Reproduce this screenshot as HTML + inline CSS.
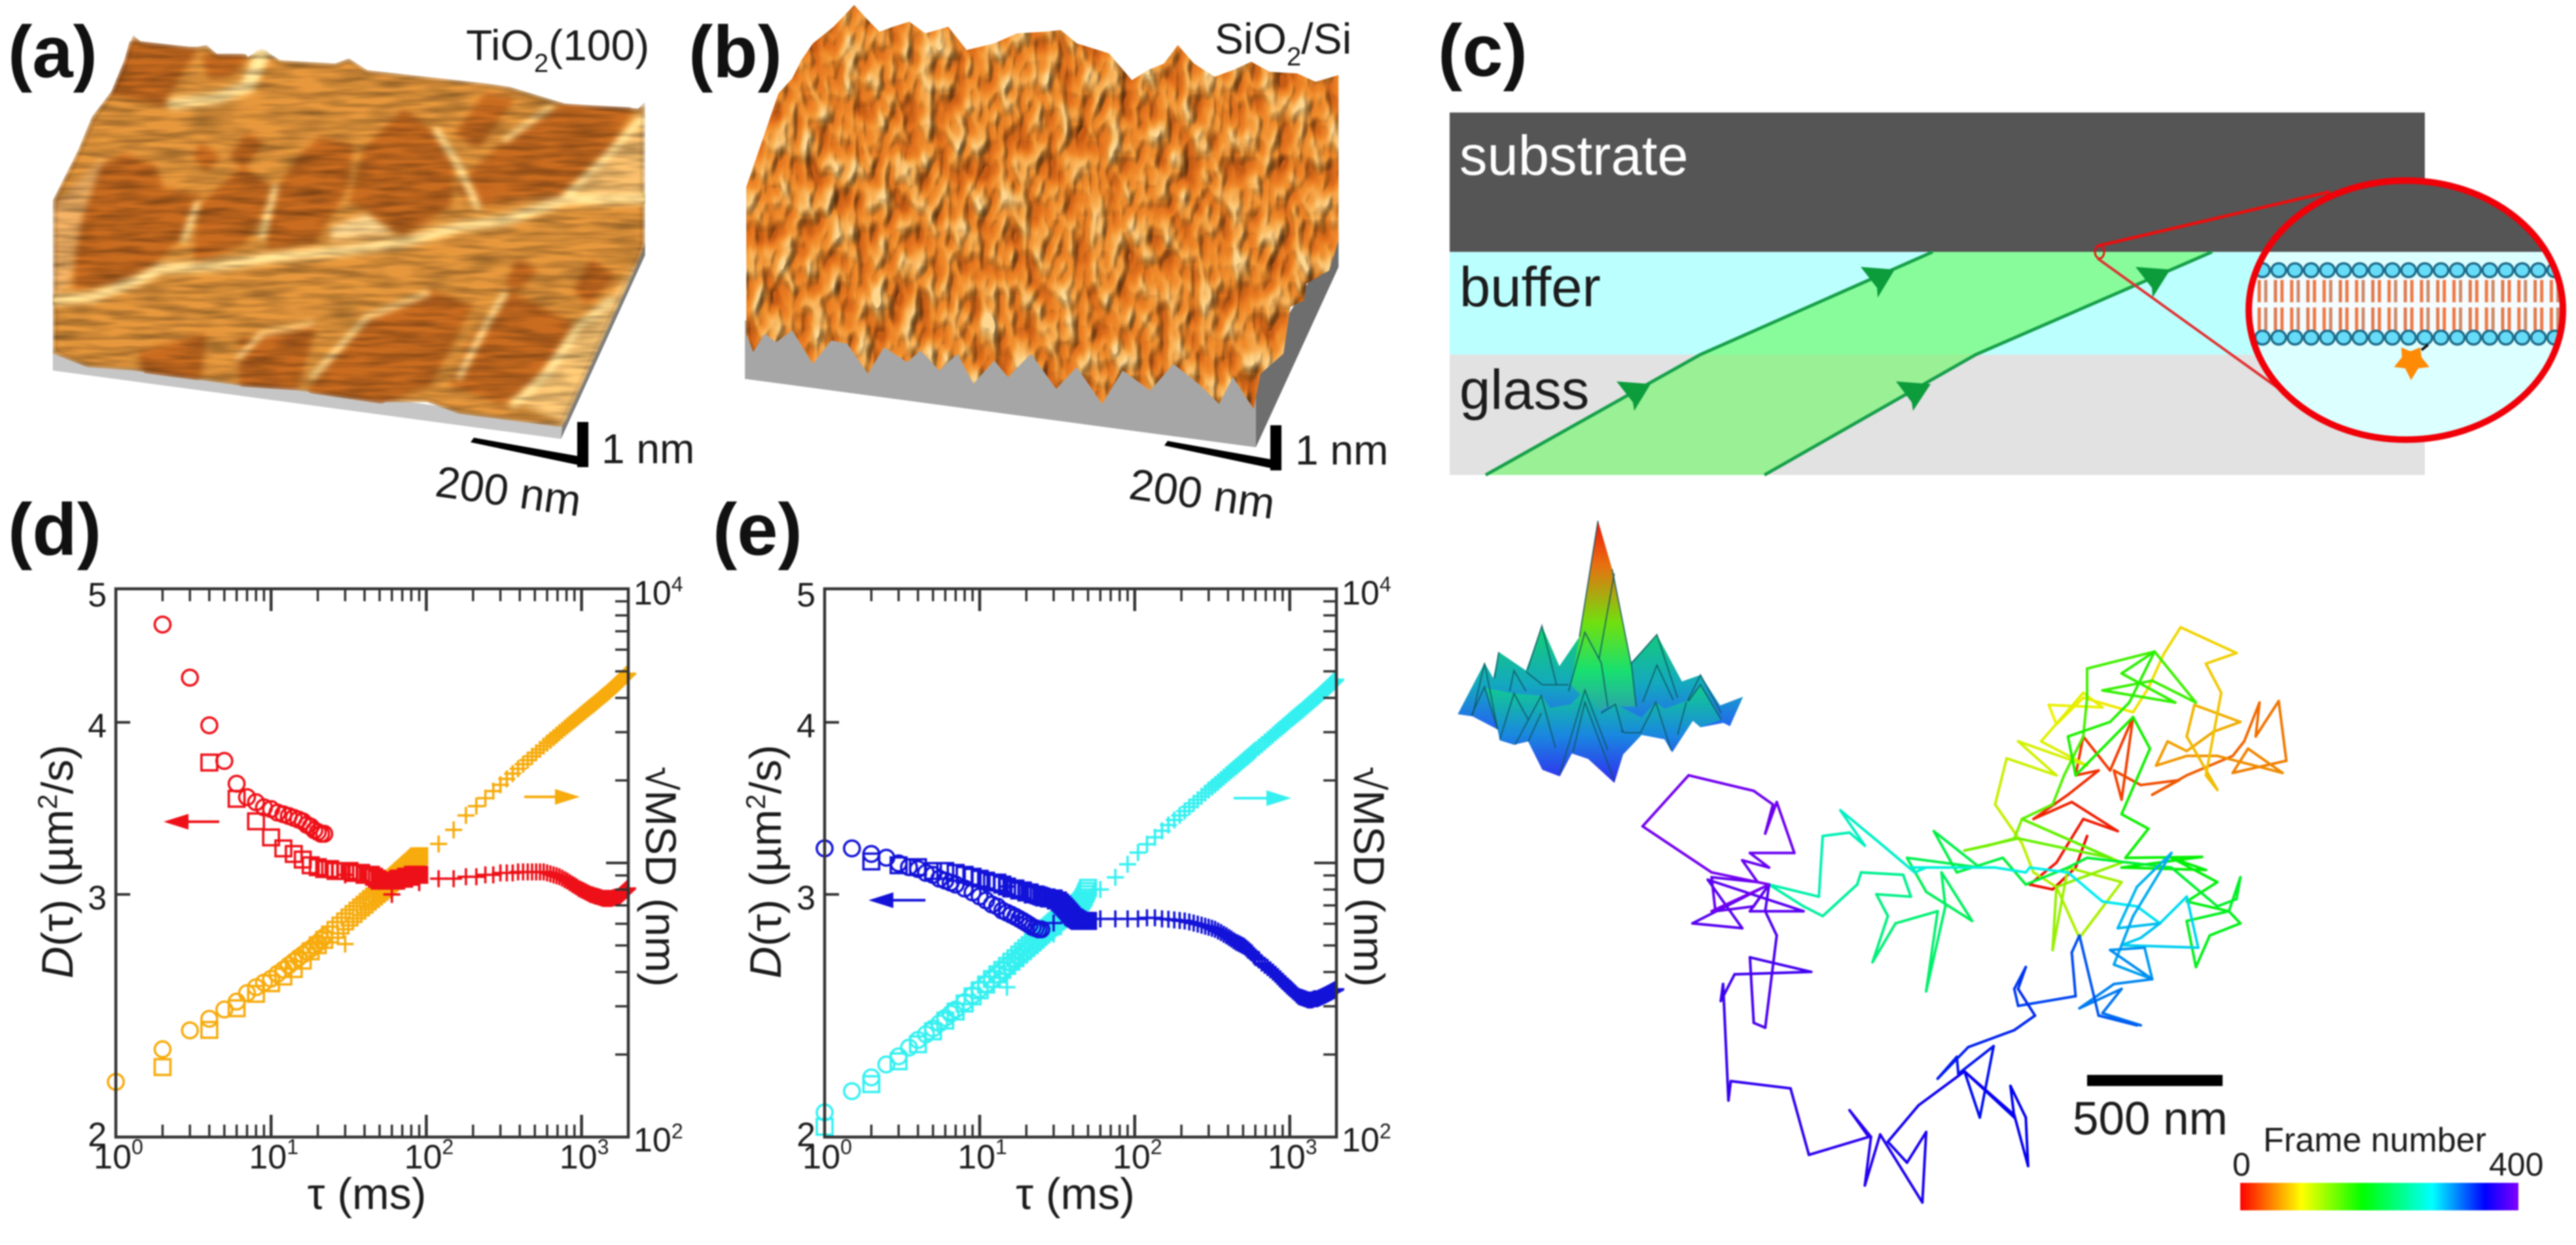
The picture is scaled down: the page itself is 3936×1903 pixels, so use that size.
<!DOCTYPE html>
<html lang="en"><head><meta charset="utf-8"><title>Supported bilayer diffusion figure</title>
<style>
html,body{margin:0;padding:0;background:#fff}
svg{display:block;filter:blur(1px)}
text{font-family:"Liberation Sans","DejaVu Sans",sans-serif;fill:#1c1c1c}
.pl{font-weight:700;font-size:112px;fill:#111}
</style></head><body>
<svg id="fig" xmlns="http://www.w3.org/2000/svg" width="3936" height="1903" viewBox="0 0 3936 1903">
<defs>
<filter id="afmA" x="0" y="0" width="1" height="1" color-interpolation-filters="sRGB">
  <feGaussianBlur in="SourceGraphic" stdDeviation="5" result="b"/>
  <feTurbulence type="fractalNoise" baseFrequency="0.014 0.1" numOctaves="2" seed="4"/>
  <feColorMatrix values="0 0 0 1.5 0  0 0 0 1.5 0  0 0 0 1.5 0  0 0 0 0 1" result="n"/>
  <feComposite in="b" in2="n" operator="arithmetic" k1="0.5" k2="0.62" k3="0" k4="0" result="t"/>
  <feComposite in="t" in2="SourceAlpha" operator="in"/>
</filter>
<filter id="afmB" x="0" y="0" width="1" height="1" color-interpolation-filters="sRGB">
  <feTurbulence type="fractalNoise" baseFrequency="0.042 0.021" numOctaves="2" seed="11" result="tb"/>
  <feColorMatrix in="tb" values="0 0 0 0 0  0 0 0 0 0  0 0 0 0 0  1.7 0 0 0 -0.35" result="h"/>
  <feDiffuseLighting in="h" surfaceScale="9" diffuseConstant="1.2" lighting-color="#ffffff" result="l">
    <feDistantLight azimuth="235" elevation="58"/>
  </feDiffuseLighting>
  <feColorMatrix in="tb" values="1.7 0 0 0 -0.35  1.7 0 0 0 -0.35  1.7 0 0 0 -0.35  0 0 0 0 1" result="g"/>
  <feComponentTransfer in="g" result="c">
    <feFuncR type="table" tableValues="0.78 0.90 0.95 0.98 1"/>
    <feFuncG type="table" tableValues="0.36 0.46 0.56 0.70 0.84"/>
    <feFuncB type="table" tableValues="0.08 0.12 0.18 0.34 0.56"/>
  </feComponentTransfer>
  <feComposite in="c" in2="l" operator="arithmetic" k1="0.7" k2="0.3" k3="0" k4="0" result="m"/>
  <feComposite in="m" in2="SourceAlpha" operator="in"/>
</filter>
<linearGradient id="psfPeak" gradientUnits="userSpaceOnUse" x1="0" y1="48" x2="0" y2="930">
  <stop offset="0" stop-color="#f01808"/><stop offset=".23" stop-color="#e87010"/>
  <stop offset=".53" stop-color="#70e010"/><stop offset=".78" stop-color="#18e070"/><stop offset="1" stop-color="#2aa0b0"/>
</linearGradient>
<linearGradient id="psfBase" gradientUnits="userSpaceOnUse" x1="0" y1="530" x2="0" y2="1240">
  <stop offset="0" stop-color="#14d070"/><stop offset=".38" stop-color="#14a8c0"/>
  <stop offset=".65" stop-color="#2468f0"/><stop offset="1" stop-color="#5a20e8"/>
</linearGradient>
<linearGradient id="psfFront" gradientUnits="userSpaceOnUse" x1="0" y1="820" x2="0" y2="1240">
  <stop offset="0" stop-color="#12c894"/><stop offset=".5" stop-color="#1a88e0"/><stop offset="1" stop-color="#3030f0"/>
</linearGradient>
<linearGradient id="cbar" x1="0" y1="0" x2="1" y2="0">
  <stop offset="0" stop-color="#ff0000"/><stop offset=".22" stop-color="#ffff00"/>
  <stop offset=".44" stop-color="#00ff00"/><stop offset=".69" stop-color="#00ffff"/>
  <stop offset=".88" stop-color="#0000ff"/><stop offset="1" stop-color="#8000ff"/>
</linearGradient>
<clipPath id="lens"><ellipse cx="3676" cy="474" rx="240" ry="198"/></clipPath>
</defs>
<rect width="3936" height="1903" fill="#fff"/>

<!-- panel a -->
<g>
 <g transform="scale(.7015,.5102)">
  <polygon fill="#c6c6c6" points="115,1050 115,1110 1222,1315 1225,1270"/>
  <polygon fill="#7c7c7c" points="1222,1315 1405,765 1405,730 1225,1270"/>
 </g>
 <g filter="url(#afmA)">
 <g transform="scale(.7015,.5102)">
  <polygon fill="#cf8836" points="290,105 320,140 430,140 450,135 480,170 540,170 570,145 610,180 730,190 760,175 800,210 1060,250 1110,260 1230,310 1390,325 1405,305 1405,740 1225,1280 1000,1240 930,1205 820,1205 680,1175 620,1165 520,1155 420,1135 290,1110 190,1100 115,1060 115,600 170,450 200,350 250,260"/>
  <g fill="#b4601c" stroke="#b4601c" stroke-width="18" stroke-linejoin="round">
   <polygon points="290,130 420,150 350,305 250,280 280,180"/>
   <polygon points="450,170 530,170 500,220 460,225"/>
   <polygon points="270,470 330,500 350,570 430,590 400,690 300,830 170,860 180,650 210,520"/>
   <polygon points="530,510 590,570 530,720 430,780 440,620"/>
   <polygon points="700,420 760,440 750,560 680,720 590,740 610,570 660,470"/>
   <polygon points="880,340 940,400 980,500 975,610 880,695 770,600 800,450"/>
   <polygon points="1060,290 1110,300 1040,430 1000,400"/>
   <polygon points="1110,420 1230,320 1370,330 1290,510 1230,580 1040,610 1000,560"/>
   <polygon points="310,1060 440,1010 430,1130 320,1110"/>
   <polygon points="530,1020 680,980 640,1160 530,1150"/>
   <polygon points="800,970 940,880 1020,920 930,1150 830,1200 680,1170"/>
   <polygon points="1110,880 1250,980 1140,1160 1090,1200 990,1150 1040,1000"/>
   <polygon points="1130,790 1160,810 1130,860 1110,850"/>
   <polygon points="1290,790 1330,830 1280,900 1260,870"/>
   <polygon points="440,440 470,470 450,500 430,470"/><polygon points="540,410 565,430 530,490 510,470"/>
  </g>
  <polygon fill="#e8b66a" points="1130,1210 1230,1270 1400,760 1300,950"/>
  <polygon fill="#e2ad62" points="1050,600 1230,590 1405,360 1405,590"/>
  <polygon fill="#dca05a" points="115,620 230,460 180,650 150,860 115,880"/>
  <polygon fill="#ecc684" points="720,680 800,640 860,700 720,720"/>
  <g fill="none" stroke="#f8d88f" stroke-linejoin="round" stroke-linecap="round">
   <polyline stroke-width="30" points="115,900 200,890 300,840 350,805 480,795 600,770 750,750 880,725 1000,680 1100,660 1230,600 1405,595"/>
   <polyline stroke-width="34" points="380,310 470,295 540,260 570,165"/>
   <polyline stroke-width="18" points="1230,590 1320,470 1400,350"/>
   <polyline stroke-width="16" points="1040,620 1000,500 950,390"/>
   <polyline stroke-width="14" points="1100,420 1200,320"/>
   <polyline stroke-width="14" points="430,610 400,720"/><polyline stroke-width="14" points="600,560 570,710"/>
   <polyline stroke-width="22" points="1120,1210 1190,1120 1260,980 1330,900"/>
   <polyline stroke-width="14" points="1000,1130 1060,970 1100,880"/>
   <polyline stroke-width="14" points="680,1130 800,950 930,880"/>
   <polyline stroke-width="12" points="520,1070 570,1000 680,970"/>
  </g>
 </g>
 </g>
</g>
<text x="712" y="92" font-size="66">TiO<tspan font-size="40" dy="18">2</tspan><tspan dy="-18">(100)</tspan></text>
<g fill="#000">
 <polygon points="882,645 899,645 899,714 882,714"/><polygon points="719,676 724,669 899,700 899,714"/>
</g>
<text x="919" y="708" font-size="64">1 nm</text>
<text font-size="67" transform="translate(663,758) rotate(8)">200 nm</text>

<!-- panel b -->
<g>
 <g transform="translate(1000,0) scale(.7015,.5102)">
  <polygon fill="#a6a6a6" points="197,960 197,1135 1310,1340 1310,1100"/>
  <polygon fill="#6e6e6e" points="1310,1340 1490,800 1490,700 1310,1100"/>
 </g>
 <g filter="url(#afmB)">
 <g transform="translate(1000,0) scale(.7015,.5102)">
  <polygon fill="#d98a35" points="200,560 215,500 240,400 270,280 300,235 320,180 345,130 390,80 435,15 465,60 490,95 520,80 555,65 590,100 640,80 680,150 740,130 790,100 850,95 885,90 920,130 990,160 1040,240 1075,210 1110,190 1140,135 1175,190 1220,230 1260,210 1300,185 1340,215 1400,220 1440,245 1490,225 1490,720 1470,810 1420,850 1415,900 1385,920 1370,1060 1320,1120 1305,1225 1260,1130 1230,1210 1185,1150 1130,1090 1080,1170 1020,1110 975,1210 920,1100 875,1165 820,1060 770,1130 740,1080 695,1150 660,1060 620,1110 580,1050 550,1085 500,1040 465,1120 420,1030 385,1020 345,1090 300,990 265,1025 240,1000 215,1055 200,1000"/>
 </g>
 </g>
</g>
<text x="1856" y="82" font-size="66">SiO<tspan font-size="40" dy="18">2</tspan><tspan dy="-18">/Si</tspan></text>
<g fill="#000">
 <polygon points="1941,650 1958,650 1958,719 1941,719"/><polygon points="1779,681 1784,674 1958,705 1958,719"/>
</g>
<text x="1979" y="710" font-size="64">1 nm</text>
<text font-size="67" transform="translate(1723,762) rotate(8)">200 nm</text>

<!-- panel c -->
<g>
 <rect x="2215" y="172" width="1490" height="213" fill="#555"/>
 <rect x="2215" y="385" width="1490" height="157" fill="#bcffff"/>
 <rect x="2215" y="542" width="1490" height="184" fill="#e2e2e2"/>
 <polygon fill="#88fc9b" points="2953,385 3380,385 3019,542 2598,542"/>
 <polygon fill="#99f095" points="2598,542 3019,542 2696,726 2270,726"/>
 <polyline fill="none" stroke="#17a04a" stroke-width="5" points="2953,385 2598,542 2270,726"/>
 <polyline fill="none" stroke="#17a04a" stroke-width="5" points="3380,385 3019,542 2696,726"/>
 <polygon fill="#0c9c3c" points="2843,408 2895,412 2869,455 2868,440"/>
 <polygon fill="#0c9c3c" points="3263,408 3316,412 3289,455 3288,440"/>
 <polygon fill="#0c9c3c" points="2470,583 2522,587 2497,628 2495,615"/>
 <polygon fill="#0c9c3c" points="2897,583 2950,587 2923,628 2921,615"/>
 <text x="2230" y="267" font-size="85" style="fill:#fff">substrate</text>
 <text x="2230" y="468" font-size="85">buffer</text>
 <text x="2230" y="625" font-size="85">glass</text>
 <ellipse cx="3208" cy="385" rx="7" ry="10" fill="none" stroke="#e81010" stroke-width="3"/>
 <line x1="3205" y1="376" x2="3560" y2="293" stroke="#e81010" stroke-width="5"/>
 <line x1="3205" y1="395" x2="3482" y2="594" stroke="#e03030" stroke-width="4"/>
 <g clip-path="url(#lens)">
  <rect x="3430" y="272" width="500" height="113" fill="#555"/>
  <rect x="3430" y="385" width="500" height="300" fill="#dcffff"/>
  <rect x="3430" y="425" width="500" height="82" fill="#f4fcff"/>
  <g id="bilayer"></g>
  <line x1="3710" y1="527" x2="3700" y2="535" stroke="#111" stroke-width="4"/>
  <polygon fill="#ff8a05" points="3669,531 3683,537 3698,531 3700,546 3712,561 3695,563 3684,581 3675,563 3658,561 3670,546"/>
 </g>
 <ellipse cx="3676" cy="474" rx="240" ry="198" fill="none" stroke="#f00008" stroke-width="10"/>
</g>

<!-- panel labels -->
<text class="pl" x="12" y="118">(a)</text>
<text class="pl" x="1052" y="118">(b)</text>
<text class="pl" x="2197" y="116">(c)</text>
<text class="pl" x="12" y="848">(d)</text>
<text class="pl" x="1089" y="848">(e)</text>

<!-- charts -->
<g id="chartD"></g>
<g id="chartE"></g>

<!-- PSF surface -->
<g transform="translate(2200,780) scale(.3333)">
 <polygon fill="url(#psfBase)" points="82,935 205,700 245,770 270,650 395,735 468,530 548,715 640,580 725,48 790,270 875,700 995,570 1110,785 1195,755 1285,895 1390,855 1330,990 1300,975 1195,995 1160,965 1065,1110 1030,1050 925,1030 840,1120 800,1250 680,1140 605,1115 550,1220 470,1190 405,1060 340,1075 275,1055 265,1005 150,945"/>
 <polygon fill="url(#psfPeak)" points="640,580 725,48 790,270 880,720 900,900 770,900 725,930 600,800"/>
 <polygon fill="url(#psfFront)" points="210,815 340,840 465,850 505,905 600,890 665,825 740,930 805,890 925,950 990,880 1030,910 1130,875 1195,800 1290,960 1195,995 1160,965 1065,1110 1030,1050 925,1030 840,1120 800,1250 680,1140 605,1115 550,1220 470,1190 405,1060 340,1075 275,1055 265,1005"/>
 <g fill="none" stroke="#0e5560" stroke-width="6" stroke-opacity=".8">
  <polyline points="150,940 205,700 265,1005"/>
  <polyline points="145,940 205,810 265,1005"/>
  <polyline points="270,650 250,770"/><polyline points="320,830 340,735 395,830"/>
  <polyline points="400,735 468,530 535,800"/><polyline points="395,740 470,800 590,800"/>
  <polyline points="275,1050 340,840 405,960"/><polyline points="345,1075 465,850 530,1090"/>
  <polyline points="405,1060 465,930"/>
  <polyline points="550,1210 665,825 770,1100"/><polyline points="610,1110 665,880 800,1240"/>
  <polyline points="725,48 640,580"/><polyline points="800,290 730,680"/>
  <polyline points="590,830 665,560 740,700 770,900"/><polyline points="790,270 880,720 900,900"/>
  <polyline points="880,700 995,570 1090,860"/><polyline points="930,880 995,710 1070,870"/>
  <polyline points="920,1020 990,880 1060,1100"/><polyline points="1090,1030 1130,880"/>
  <polyline points="1135,875 1195,755 1290,930"/><polyline points="1140,875 1195,800 1290,960"/>
  <polyline points="830,1010 850,1020 925,1020"/><polyline points="740,930 805,890 840,1020"/>
 </g>
</g>

<g id="track"></g>

<rect x="3189" y="1643" width="207" height="17" fill="#000"/>
<text x="3167" y="1734" font-size="71">500 nm</text>
<text x="3458" y="1760" font-size="52">Frame number</text>
<text x="3411" y="1797" font-size="50">0</text>
<text x="3803" y="1797" font-size="50">400</text>
<rect x="3423" y="1808" width="425" height="42" fill="url(#cbar)"/>
</svg>

<script>
// ---------- panel (d) data ----------
const dCircleTau=[1,2,3,4,5,6,7,8,9,10,11,12,13,14,15,16,17,18,19,20,21,22];
const dCircleD=[null,4.71,4.31,3.98,3.75,3.61,3.53,3.50,3.47,3.46,3.44,3.43,3.42,3.41,3.40,3.39,3.37,3.36,3.34,3.33,3.32,3.32];
const dCircleMsd=[159,209,245,270,292,312,335,352,366,378,394,408,423,437,451,463,475,486,498,510,524,537];
const dSquareTau=[2,4,6,8,10,12,14,16,18,20,22,24,26,28,30,32,34,36,38,40,42,44,46,48,50,52,54,56,58,60,62,64,66,68,70,72,74,76,78,80,82,84,86,88,90];
const dSquareD=[null,3.74,3.52,3.39,3.30,3.24,3.21,3.18,3.15,3.14,3.13,3.13,3.12,3.12,3.12,3.12,3.11,3.11,3.11,3.10,3.10,3.10,3.09,3.08,3.07,3.07,3.07,3.07,3.07,3.07,3.07,3.07,3.08,3.08,3.08,3.08,3.09,3.09,3.09,3.09,3.10,3.10,3.10,3.10,3.10];
const dSquareMsd=[180,246,295,333,364,385,410,440,476,501,524,548,570,591,612,632,651,670,688,704,722,738,754,770,784,800,816,830,844,860,876,890,904,918,932,944,958,970,984,996,1008,1020,1034,1046,1058];
const dPlusTau=[30,60,90,120,150,180,210,240,270,300,330,360,390,420,450,480,510,540,570,600,630,660,690,720,750,780,810,840,870,900,930,960,990,1020,1050,1080,1110,1140,1170,1200,1230,1260,1290,1320,1350,1380,1410,1440,1470,1500,1530,1560,1590,1620,1650,1680,1710,1740,1770,1800,1830,1860,1890,1920,1950,1980];
const dPlusD=[3.10,3.00,3.06,3.08,3.08,3.09,3.09,3.10,3.10,3.11,3.11,3.11,3.115,3.115,3.115,3.115,3.115,3.115,3.115,3.11,3.105,3.10,3.095,3.09,3.083,3.075,3.068,3.06,3.052,3.045,3.038,3.03,3.025,3.02,3.015,3.01,3.005,3.00,2.998,2.995,2.992,2.99,2.988,2.985,2.982,2.98,2.98,2.98,2.98,2.98,2.98,2.98,2.982,2.985,2.985,2.985,2.988,2.99,2.995,3.00,3.005,3.01,3.015,3.02,3.025,3.03];
const dPlusMsd=[506,860,1012,1173,1320,1490,1611,1723,1828,1928,2026,2118,2206,2290,2370,2448,2523,2596,2667,2736,2800,2865,2928,2990,3048,3105,3160,3215,3268,3320,3372,3425,3475,3525,3572,3620,3665,3710,3752,3795,3840,3885,3930,3975,4018,4060,4100,4140,4182,4225,4268,4310,4352,4395,4435,4475,4518,4560,4605,4650,4692,4735,4778,4820,4860,4900];
// ---------- panel (e) data ----------
const eCircleTau=[1,1.5,2,2.5,3,3.5,4,4.5,5,5.5,6,6.5,7,8,9,10,11,12,13,14,15,16,17,18,19,20,21,22,23,24,25];
const eCircleD=[3.24,3.24,3.21,3.19,3.16,3.14,3.13,3.11,3.10,3.08,3.07,3.06,3.05,3.03,3.01,2.99,2.97,2.95,2.94,2.92,2.91,2.90,2.89,2.88,2.87,2.86,2.85,2.84,2.835,2.83,2.83];
const eCircleMsd=[123,147,165,184,197,212,226,237,249,260,272,282,292,311,329,346,361,376,391,405,418,431,443,455,466,477,488,499,510,521,532];
const eSquareTau=[1,2,3,4,5,6,7,8,9,10,11,12,13,14,15,16,17,18,19,20,21,22,23,24,25,26,27,28,29,30,31,32,33,34,35,36,37,38,39,40,41,42,43,44,45,46,47,48,49,50];
const eSquareD=[null,3.17,3.15,3.14,3.12,3.12,3.11,3.10,3.09,3.08,3.07,3.06,3.06,3.05,3.04,3.03,3.03,3.02,3.02,3.01,3.01,3.00,3.00,2.995,2.99,2.985,2.985,2.98,2.98,2.98,2.97,2.97,2.96,2.95,2.94,2.93,2.92,2.91,2.90,2.89,2.885,2.88,2.875,2.87,2.87,2.87,2.87,2.87,2.87,2.87];
const eSquareMsd=[109,156,189,218,243,266,287,307,326,343,360,377,392,407,421,436,449,463,476,489,501,513,525,537,548,559,570,581,591,601,611,620,630,639,648,655,662,670,677,685,692,699,706,714,722,735,750,770,790,811];
const ePlusTau=[15,30,45,60,75,90,105,120,135,150,165,180,195,210,225,240,255,270,285,300,315,330,345,360,375,390,405,420,435,450,465,480,495,510,525,540,555,570,585,600,630,660,690,720,750,780,810,840,870,900,930,960,990,1020,1050,1080,1110,1140,1170,1200,1230,1260,1290,1320,1350,1380,1410,1440,1470,1500,1530,1560,1590,1620,1650,1680,1710,1740,1770,1800,1830,1860,1890,1920,1950,1980];
const ePlusD=[3.04,2.86,2.88,2.88,2.88,2.88,2.88,2.885,2.885,2.88,2.878,2.875,2.872,2.87,2.865,2.86,2.855,2.85,2.845,2.84,2.835,2.83,2.822,2.815,2.807,2.80,2.792,2.785,2.777,2.77,2.765,2.76,2.755,2.75,2.742,2.735,2.727,2.72,2.71,2.70,2.69,2.675,2.665,2.655,2.645,2.635,2.625,2.615,2.605,2.595,2.585,2.575,2.567,2.56,2.552,2.545,2.537,2.53,2.527,2.525,2.522,2.52,2.517,2.515,2.515,2.515,2.517,2.52,2.52,2.52,2.522,2.525,2.527,2.53,2.532,2.535,2.537,2.54,2.542,2.545,2.547,2.55,2.552,2.555,2.557,2.56];
const ePlusMsd=[352,550,710,800,886,989,1091,1170,1240,1310,1375,1435,1490,1545,1600,1650,1700,1750,1798,1845,1888,1930,1972,2015,2055,2095,2133,2170,2208,2245,2280,2315,2350,2385,2418,2450,2483,2515,2548,2580,2640,2700,2760,2820,2875,2930,2985,3040,3090,3140,3190,3240,3290,3340,3385,3430,3475,3520,3560,3600,3645,3690,3732,3775,3818,3860,3900,3940,3980,4020,4060,4100,4140,4180,4220,4260,4300,4340,4380,4420,4460,4500,4540,4580,4620,4660];
// ---------- axis labels ----------
const xDecades=[0,1,2,3];
const leftTickValues=[3,4];
const leftTickLabels=[2,3,4,5];
const rightDecades=[2,3,4];
const minorMultiples=[2,3,4,5,6,7,8,9];
// ---------- trajectory (position in track units, ordered by frame) ----------
const trackStartFrames=[0,25,55,105,150,200,275,340,385];
const trackEndFrames=[25,55,105,150,200,275,340,385,400];
const trackX=[
[930,915,885,855,890,925,970,910,860,905,945,915,925,960,990,975],
[965,1000,1050,1015,1060,1120,1135,1155,1150,1180,1190,1120,1140,1185,1100,1060],
[1020,1035,1060,1095,1130,1070,1060,1100,1085,1105,1085,1125,1052,1030,1010,990,925,890,880,950,925,870,930,840,890,825,810],
[845,860,890,920,975,905,885,890,975,845,835,800,770,840,960,845,885,900,925],
[930,930,1018,1072,1015,950,1045,975,1018,985,960,905,915,990,1012,975,1010,980,1080,975,1085,1040,1100,1060,1115,1130,1090,1072,1060,1115,1130,1125,1100,1040,930,905,850],
[820,760,730,790,695,720,780,740,745,720,735,680,650,670,655,700,690,635,630,585,560,515,580,585,620,640,608,660,705,720,760,700,810,850,855],
[905,950,995,1025,1060,1075,975,1000,1025,970,995,1040,990,965,1015,1005,960,1015,965,920,975,950,1000,945,995,945,920,910,915,840,835,850,840,862],
[835,775,735,760,762,808,790,770,835,830,850,853,835,770,710,670,695,720,715,660,640,648,620,645,567,543,465,462,455,452,470,570,490,495,510,525,510],
[515,415,480,435,560,490,515,495,445,440,500,480,515,490,548,525,510,520,495,410,350,440,515,440]
];
const trackY=[
[725,790,835,825,780,690,715,655,690,640,590,600,520,590,480,650],
[590,620,610,640,600,560,530,450,520,447,570,595,545,595,560,560],
[580,530,550,510,490,455,520,630,600,430,370,348,295,350,420,470,440,495,455,460,430,530,580,530,600,565,660],
[740,800,830,935,820,790,960,830,780,690,730,745,755,730,770,690,660,600,520],
[440,380,345,450,405,425,450,390,345,450,490,520,600,480,545,680,710,770,768,790,795,770,820,860,880,905,930,995,900,880,810,855,870,790,770,790,825],
[770,800,715,790,770,840,900,800,870,1045,880,905,985,890,845,850,805,800,825,890,870,825,850,725,718,745,672,740,800,790,790,790,790,800,790],
[800,860,870,905,850,955,950,935,905,915,830,760,890,990,1020,955,960,1020,1030,1080,1040,1090,1115,1095,1115,1095,930,965,1055,1075,1040,995,1040,1095],
[1125,1160,1225,1180,1215,1158,1305,1210,1305,1240,1305,1405,1300,1210,1280,1355,1398,1335,1480,1340,1445,1345,1290,1345,1382,1245,1230,1270,1030,1065,1010,1005,975,1110,1120,930,880],
[825,905,915,815,880,880,825,870,880,810,820,775,790,760,760,655,720,660,632,600,705,800,825,880]
];

const NS='http://www.w3.org/2000/svg';
function node(parent,tag,attrs,txt){const e=document.createElementNS(NS,tag);for(const k in attrs)e.setAttribute(k,attrs[k]);if(txt!==undefined)e.textContent=txt;parent.appendChild(e);return e;}

function drawChart(root,left,right,top,bottom,s,titleX,rightTitleX){
  const decade=(right-left)/Math.log10(2000);
  const xScale=t=>left+decade*Math.log10(t);
  const yLeft=d=>bottom-(bottom-top)*Math.log10(d/2)/Math.log10(2.5);
  const yRight=n=>bottom-(bottom-top)*Math.log10(n/100)/2;
  const color1=s.leftColor,color2=s.rightColor;

  function circles(g,taus,vals,col){
    taus.forEach((t,i)=>{ if(vals[i]===null) return;
      const el=node(g,'circle',{cx:xScale(t),cy:s.y(vals[i]),r:12,fill:'none',stroke:col,'stroke-width':3.6});
      
      
    });
  }
  function squares(g,taus,vals,col){
    taus.forEach((t,i)=>{ if(vals[i]===null) return;
      const el=node(g,'rect',{x:xScale(t)-12,y:s.y(vals[i])-12,width:24,height:24,fill:'none',stroke:col,'stroke-width':3.6});
      
      
    });
  }
  function pluses(g,taus,vals,col){
    taus.forEach((t,i)=>{
      const x=xScale(t),y=s.y(vals[i]);
      const el=node(g,'path',{d:`M${x-13} ${y}H${x+13}M${x} ${y-13}V${y+13}`,fill:'none',stroke:col,'stroke-width':3.6});
      
      
    });
  }
  const msd=node(root,'g',{});
  
  
  s.y=yRight;
  circles(msd,s.cTau,s.cMsd,color2); squares(msd,s.sTau,s.sMsd,color2); pluses(msd,s.pTau,s.pMsd,color2);
  const dif=node(root,'g',{});
  
  
  s.y=yLeft;
  circles(dif,s.cTau,s.cD,color1); squares(dif,s.sTau,s.sD,color1); pluses(dif,s.pTau,s.pD,color1);

  const frame=node(root,'rect',{x:left,y:top,width:right-left,height:bottom-top,fill:'none',stroke:'#333','stroke-width':4.5});
  
  

  xDecades.forEach(e=>{
    const major=xScale(Math.pow(10,e));
    if(e>0){
      const t=node(root,'path',{d:`M${major} ${top}v34M${major} ${bottom}v-34`,stroke:'#333','stroke-width':4.5});
      
      
    }
    minorMultiples.forEach(m=>{
      const v=m*Math.pow(10,e); if(v>2000) return;
      const x=xScale(v);
      const t=node(root,'path',{d:`M${x} ${top}v19M${x} ${bottom}v-19`,stroke:'#333','stroke-width':3.5});
      
      
    });
    const lab=node(root,'text',{x:major+4,y:bottom+48,'text-anchor':'middle','font-size':52},'10');
    
    
    node(lab,'tspan',{'font-size':32,dy:-22},String(e));
  });
  leftTickValues.forEach(v=>{
    const t=node(root,'line',{x1:left,x2:left+22,y1:yLeft(v),y2:yLeft(v),stroke:'#333','stroke-width':4});
    
    
  });
  leftTickLabels.forEach(v=>{
    const lab=node(root,'text',{x:left-14,y:yLeft(v)+(v===5?27:v===2?14:23),'text-anchor':'end','font-size':52},String(v));
    
    
  });
  rightDecades.forEach(e=>{
    const v=Math.pow(10,e);
    if(e===3){
      const t=node(root,'line',{x1:right,x2:right-34,y1:yRight(v),y2:yRight(v),stroke:'#333','stroke-width':4});
      
      
    }
    if(e<4) minorMultiples.forEach(m=>{
      const y=yRight(m*v);
      const t=node(root,'line',{x1:right,x2:right-20,y1:y,y2:y,stroke:'#333','stroke-width':3.5});
      
      
    });
    if(e!==3){
      const lab=node(root,'text',{x:right+8,y:yRight(v)+(e===4?24:22),'font-size':52},'10');
      
      
      node(lab,'tspan',{'font-size':32,dy:-20},String(e));
    }
  });
  const xt=node(root,'text',{x:(left+right)/2-8,y:bottom+110,'text-anchor':'middle','font-size':68},'τ (ms)');
  
  
  const yl=node(root,'text',{transform:`translate(${titleX},1317) rotate(-90)`,'text-anchor':'middle','font-size':68});
  
  
  node(yl,'tspan',{'font-style':'italic'},'D');
  node(yl,'tspan',{},'(τ) (µm');
  node(yl,'tspan',{'font-size':42,dy:-24},'2');
  node(yl,'tspan',{dy:24},'/s)');
  const yr=node(root,'text',{transform:`translate(${rightTitleX},1340) rotate(90)`,'text-anchor':'middle','font-size':66},'√MSD (nm)');
  
  
  s.arrows.forEach(a=>{
    const dir=a.x2>a.x1?1:-1;
    const g=node(root,'g',{});
    
    
    node(g,'line',{x1:a.x1,x2:a.x2-dir*30,y1:a.y,y2:a.y,stroke:a.c,'stroke-width':4});
    node(g,'polygon',{points:`${a.x2},${a.y} ${a.x2-dir*38},${a.y-12} ${a.x2-dir*38},${a.y+12}`,fill:a.c});
  });
}

drawChart(document.getElementById('chartD'),177,960,900,1738,{
  leftColor:'#ee1018',rightColor:'#f7ab0c',
  cTau:dCircleTau,cD:dCircleD,cMsd:dCircleMsd,
  sTau:dSquareTau,sD:dSquareD,sMsd:dSquareMsd,
  pTau:dPlusTau,pD:dPlusD,pMsd:dPlusMsd,
  arrows:[{x1:335,x2:250,y:1256,c:'#ee1018'},{x1:801,x2:886,y:1218,c:'#f7ab0c'}]
},111,987);
drawChart(document.getElementById('chartE'),1260,2042,900,1738,{
  leftColor:'#1212d8',rightColor:'#35f0f0',
  cTau:eCircleTau,cD:eCircleD,cMsd:eCircleMsd,
  sTau:eSquareTau,sD:eSquareD,sMsd:eSquareMsd,
  pTau:ePlusTau,pD:ePlusD,pMsd:ePlusMsd,
  arrows:[{x1:1414,x2:1327,y:1376,c:'#1212d8'},{x1:1885,x2:1973,y:1220,c:'#35f0f0'}]
},1193,2069);

const trackScaleX=v=>2100+v/0.854;
const trackScaleY=v=>740+v/1.348;
function frameColor(f){
  const t=f/400, a=[0,.22,.44,.69,.88,1], h=[0,60,120,180,240,270];
  for(let i=1;i<a.length;i++) if(t<=a[i]) return `hsl(${h[i-1]+(h[i]-h[i-1])*(t-a[i-1])/(a[i]-a[i-1])},100%,47%)`;
  return 'hsl(270,100%,47%)';
}
(function(){
  const root=document.getElementById('track');
  let px=null,py=null;
  trackX.forEach((xs,c)=>{
    xs.forEach((x,i)=>{
      const y=trackY[c][i];
      const f=trackStartFrames[c]+(trackEndFrames[c]-trackStartFrames[c])*i/xs.length;
      if(px!==null){
        const el=node(root,'line',{x1:trackScaleX(px),y1:trackScaleY(py),x2:trackScaleX(x),y2:trackScaleY(y),stroke:frameColor(f),'stroke-width':4,'stroke-linecap':'round'});
        
        
      }
      px=x;py=y;
    });
  });
  const b=document.getElementById('bilayer');
  for(let k=0;k<19;k++){
    const x=3457+k*24.8;
    [[428,462],[470,505]].forEach(r=>{
      node(b,'line',{x1:x-5,x2:x-5,y1:r[0],y2:r[1],stroke:k%2?'#e07a4c':'#f07844','stroke-width':5});
      node(b,'line',{x1:x+5,x2:x+5,y1:r[0],y2:r[1],stroke:k%2?'#f07844':'#d08a68','stroke-width':5});
    });
    [413,516].forEach(y=>node(b,'ellipse',{cx:x,cy:y,rx:11,ry:10.5,fill:'#66dcf8',stroke:'#1f6a88','stroke-width':3.5}));
  }
})();
</script>
</body></html>
